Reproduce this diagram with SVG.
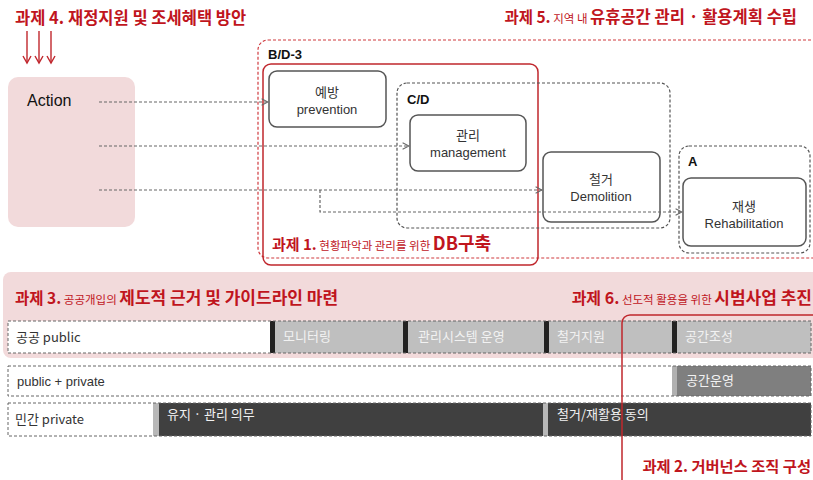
<svg xmlns="http://www.w3.org/2000/svg" width="813" height="480" viewBox="0 0 813 480">
<defs>
<style>
.t{font-family:"Liberation Sans","Noto Sans CJK KR",sans-serif;}
.k{font-family:"Noto Sans CJK KR","Liberation Sans",sans-serif;}
.red{fill:#c0151d;}
.b{font-weight:bold;}
.box{fill:#fff;stroke:#555;stroke-width:1.5;}
.dbox{fill:none;stroke:#555;stroke-width:1.2;stroke-dasharray:3 2;}
.rowbox{fill:none;stroke:#666;stroke-width:1;stroke-dasharray:3 2;}
.conn{fill:none;stroke:#666;stroke-width:1.2;stroke-dasharray:3 2;}
.lbl{font-size:13px;fill:#333;text-anchor:middle;}
.seg{font-size:13px;fill:#f2f2f2;}
</style>
<marker id="ah" viewBox="0 0 10 10" refX="9" refY="5" markerWidth="8" markerHeight="8" orient="auto" markerUnits="userSpaceOnUse">
<path d="M1,1 L9,5 L1,9" fill="none" stroke="#666" stroke-width="1.3"/>
</marker>
</defs>
<rect width="813" height="480" fill="#fff"/>

<!-- Title 4 -->
<g id="task4">
<text x="15" y="24" class="k b red" font-size="16.5">과제 4. 재정지원 및 조세혜택 방안</text>
<g stroke="#c0272d" stroke-width="1.4">
<line x1="27" y1="31" x2="27" y2="63"/>
<line x1="39" y1="31" x2="39" y2="63"/>
<line x1="51" y1="31" x2="51" y2="63"/>
</g>
<g fill="none" stroke="#c0272d" stroke-width="1.4">
<path d="M23,56 L27,63 L31,56"/>
<path d="M35,56 L39,63 L43,56"/>
<path d="M47,56 L51,63 L55,56"/>
</g>
</g>

<!-- Title 5 -->
<g id="task5">
<text x="797" y="23" class="k red" text-anchor="end"><tspan class="b" font-size="15.5">과제 5.</tspan><tspan font-size="11.5"> 지역 내 </tspan><tspan class="b" font-size="16.5">유휴공간 관리 · 활용계획 수립</tspan></text>
<rect x="258" y="40" width="566" height="218" rx="10" fill="none" stroke="#d03a3f" stroke-width="1.2" stroke-dasharray="3 2"/>
</g>

<!-- Action -->
<g id="action">
<rect x="8" y="77" width="127" height="150" rx="10" fill="#f2dadb"/>
<text x="27" y="106" class="t" font-size="16" fill="#111">Action</text>
</g>

<!-- Task 1 red box -->
<g id="task1">
<rect x="263" y="64" width="275" height="201" rx="8" fill="none" stroke="#c0272d" stroke-width="1.5"/>
<text x="272" y="250" class="k red"><tspan class="b" font-size="15">과제 1.</tspan><tspan font-size="11.5"> 현황파악과 관리를 위한 </tspan><tspan class="b" font-size="18">DB구축</tspan></text>
</g>
<text x="268" y="59" class="t b" font-size="13" fill="#111">B/D-3</text>

<!-- C/D group -->
<g id="cd">
<rect x="397" y="83" width="273" height="145" rx="10" class="dbox"/>
<text x="407" y="104" class="t b" font-size="13" fill="#111">C/D</text>
</g>

<!-- A group -->
<g id="a-group">
<rect x="679" y="146" width="131" height="107" rx="10" class="dbox"/>
<text x="688" y="166" class="t b" font-size="13" fill="#111">A</text>
</g>

<g id="prevention">
<rect x="269" y="71" width="117" height="56" rx="8" class="box"/>
<text x="327" y="97" class="k lbl">예방</text>
<text x="327" y="114" class="t lbl">prevention</text>
</g>

<g id="management">
<rect x="410" y="115" width="116" height="56" rx="8" class="box"/>
<text x="468" y="140" class="k lbl">관리</text>
<text x="468" y="157" class="t lbl">management</text>
</g>

<g id="demolition">
<rect x="543" y="152" width="117" height="70" rx="8" class="box"/>
<text x="601" y="184" class="k lbl">철거</text>
<text x="601" y="201" class="t lbl">Demolition</text>
</g>

<g id="rehabilitation">
<rect x="683" y="178" width="123" height="68" rx="8" class="box"/>
<text x="744" y="211" class="k lbl">재생</text>
<text x="744" y="228" class="t lbl">Rehabilitation</text>
</g>

<!-- connectors -->
<g id="connectors">
<path d="M99,102 H268" class="conn" marker-end="url(#ah)"/>
<path d="M99,146 H409" class="conn" marker-end="url(#ah)"/>
<path d="M99,190 H542" class="conn" marker-end="url(#ah)"/>
<path d="M320,190 V212 H682" class="conn" marker-end="url(#ah)"/>
</g>

<!-- Task 3 band -->
<g id="task3">
<rect x="3" y="272" width="820" height="86" rx="8" fill="#f2dadb"/>
<text x="15" y="304" class="k red"><tspan class="b" font-size="15.5">과제 3.</tspan><tspan font-size="11.5"> 공공개입의 </tspan><tspan class="b" font-size="17">제도적 근거 및 가이드라인 마련</tspan></text>
</g>

<g id="task6">
<text x="812" y="304" class="k red" text-anchor="end"><tspan class="b" font-size="16">과제 6.</tspan><tspan font-size="11.5">  선도적 활용을 위한 </tspan><tspan class="b" font-size="17">시범사업 추진</tspan></text>
</g>

<!-- Row 1 public -->
<g id="row-public">
<rect x="8" y="321" width="262" height="32" fill="#fff"/>
<rect x="270" y="321" width="541" height="32" fill="#bfbfbf"/>
<rect x="270" y="321" width="5" height="32" fill="#222"/>
<rect x="403" y="321" width="5" height="32" fill="#222"/>
<rect x="544" y="321" width="5" height="32" fill="#222"/>
<rect x="672" y="321" width="5" height="32" fill="#222"/>
<rect x="8" y="321" width="803" height="32" class="rowbox"/>
<text x="16" y="342" class="k" font-size="13" fill="#333">공공 public</text>
<text x="283" y="341" class="k seg">모니터링</text>
<text x="418" y="341" class="k seg">관리시스템 운영</text>
<text x="557" y="341" class="k seg">철거지원</text>
<text x="685" y="341" class="k seg">공간조성</text>
</g>

<!-- Row 2 public + private -->
<g id="row-pp">
<rect x="672" y="366" width="139" height="30" fill="#7f7f7f"/>
<rect x="672" y="366" width="5" height="30" fill="#b0b0b0"/>
<rect x="8" y="366" width="803" height="30" class="rowbox"/>
<text x="17" y="386" class="t" font-size="13" fill="#333">public + private</text>
<text x="686" y="385" class="k seg">공간운영</text>
</g>

<!-- Row 3 private -->
<g id="row-private">
<rect x="153" y="403" width="658" height="33" fill="#404040"/>
<rect x="153" y="403" width="6" height="33" fill="#b8b8b8"/>
<rect x="543" y="403" width="5" height="33" fill="#b8b8b8"/>
<rect x="8" y="403" width="803" height="33" class="rowbox"/>
<text x="15" y="424" class="k" font-size="13" fill="#333">민간 private</text>
<text x="167" y="419" class="k seg">유지 · 관리 의무</text>
<text x="557" y="419" class="k seg">철거/재활용 동의</text>
</g>

<!-- Task 2 -->
<g id="task2">
<rect x="622" y="315" width="200" height="175" rx="8" fill="none" stroke="#c0272d" stroke-width="1.5"/>
<text x="811" y="472" class="k b red" font-size="15.3" text-anchor="end">과제 2. 거버넌스  조직 구성</text>
</g>
</svg>
